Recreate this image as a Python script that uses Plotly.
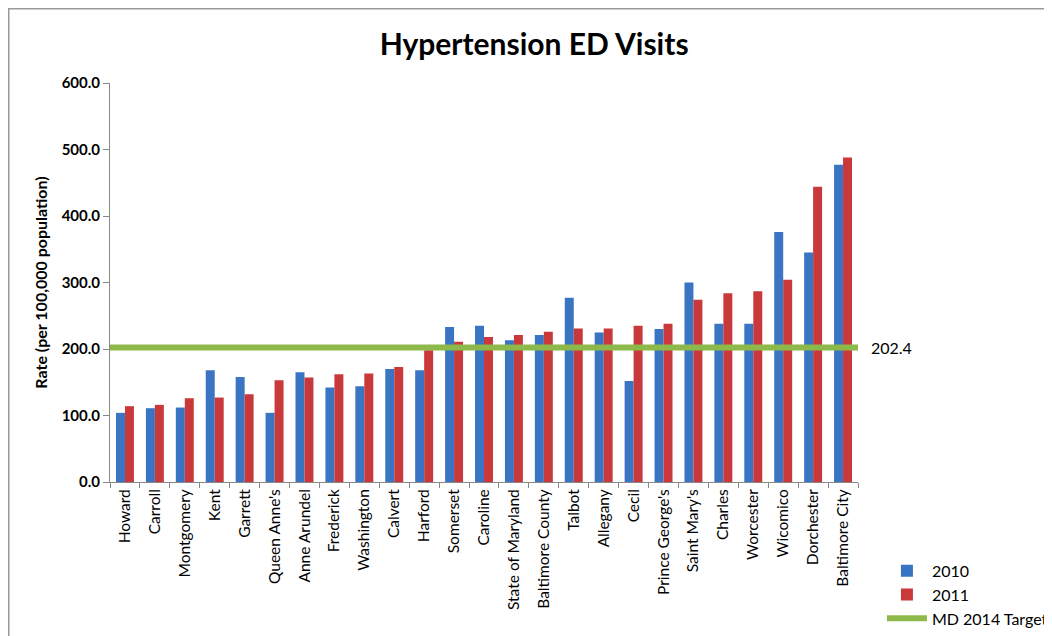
import plotly.graph_objects as go

counties = ["Howard", "Carroll", "Montgomery", "Kent", "Garrett", "Queen Anne's",
            "Anne Arundel", "Frederick", "Washington", "Calvert", "Harford", "Somerset",
            "Caroline", "State of Maryland", "Baltimore County", "Talbot", "Allegany",
            "Cecil", "Prince George's", "Saint Mary's", "Charles", "Worcester",
            "Wicomico", "Dorchester", "Baltimore City"]
rate_2010 = [104, 111, 112, 168, 158, 104, 165, 142, 144, 170, 168, 233,
             235, 213, 221, 277, 225, 152, 230, 300, 238, 238, 376, 345, 477]
rate_2011 = [114, 116, 126, 127, 132, 153, 157, 162, 163, 173, 198, 211,
             218, 221, 226, 231, 231, 235, 238, 274, 284, 287, 304, 444, 488]
target_value = 202.4
target_x = [0, 1]

FONT = "Lato, Open Sans, sans-serif"

fig = go.Figure()
fig.add_trace(go.Bar(x=counties, y=rate_2010, name="2010",
                     marker=dict(color="#3A75C4", line=dict(width=0))))
fig.add_trace(go.Bar(x=counties, y=rate_2011, name="2011",
                     marker=dict(color="#C9393B", line=dict(width=0))))
fig.add_trace(go.Scatter(x=target_x, y=[target_value] * len(target_x),
                         xaxis="x2", mode="lines", name="MD 2014 Target",
                         line=dict(color="#8DB84A", width=6)))

fig.update_layout(
    width=1052, height=636,
    paper_bgcolor="white", plot_bgcolor="white",
    margin=dict(l=102, r=202, t=75, b=162, autoexpand=False),
    barmode="group", bargap=0.4, bargroupgap=0,
    font=dict(family=FONT, size=13, color="black"),
    title=dict(text="<b>Hypertension ED Visits</b>", x=0.567, xanchor="center",
               y=0.942, yanchor="middle",
               xref="paper", yref="container",
               font=dict(family=FONT, size=30, color="black")),
    xaxis=dict(tickangle=-90, showline=True, linecolor="#888888", linewidth=1,
               ticks="outside", tickson="boundaries", ticklen=5, tickcolor="#888888",
               tickfont=dict(family=FONT, size=15.5, color="black"),
               showgrid=False),
    xaxis2=dict(overlaying="x", range=[0, 1], visible=False, fixedrange=True),
    yaxis=dict(range=[0, 600], dtick=100, tickformat=".1f", showgrid=False,
               showline=True, linecolor="#888888", linewidth=1,
               ticks="outside", ticklen=6, tickcolor="#888888",
               tickfont=dict(family=FONT, size=15, color="black", weight="bold"),
               title=dict(text="<b>Rate (per 100,000 population)</b>",
                          font=dict(family=FONT, size=16), standoff=10),
               zeroline=False),
    legend=dict(x=1.032, y=-0.18, xanchor="left", yanchor="top",
                font=dict(family=FONT, size=16, color="black"),
                bgcolor="rgba(0,0,0,0)", itemwidth=40, tracegroupgap=5),
    annotations=[dict(x=1.015, y=target_value, xref="paper", yref="y",
                      text=f"{target_value:.1f}", showarrow=False,
                      xanchor="left", yanchor="middle",
                      font=dict(family=FONT, size=16, color="black"))],
    shapes=[dict(type="rect", xref="paper", yref="paper",
                 x0=-0.1357, x1=1.3, y0=-0.45, y1=1.1867,
                 line=dict(color="#999999", width=2))],
)

fig.write_html("out.html")
